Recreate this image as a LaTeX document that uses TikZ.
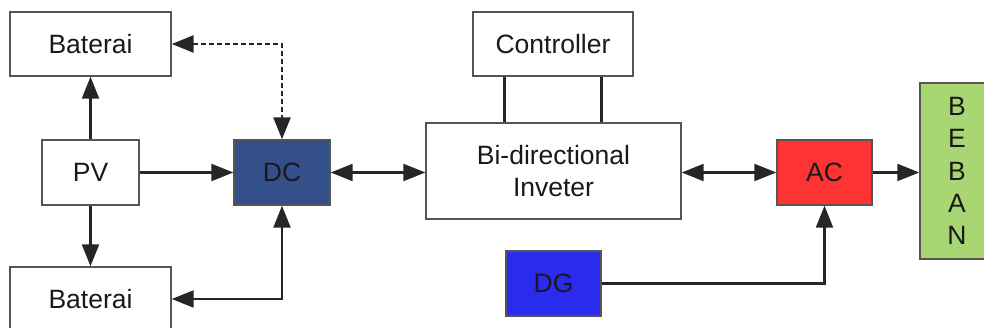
\documentclass[tikz,border=0pt]{standalone}
\usepackage{fontspec}
\setmainfont{Liberation Sans}
\usetikzlibrary{arrows.meta,calc}
\definecolor{dcblue}{HTML}{34508A}
\definecolor{dgblue}{HTML}{2B2BF0}
\definecolor{acred}{HTML}{FF3333}
\definecolor{bgreen}{HTML}{A8D672}
\definecolor{edge}{HTML}{555555}
\tikzset{
  blk/.style={draw=edge, line width=1.4pt, rectangle, inner sep=0pt, align=center,
    font=\fontsize{26.5}{32}\selectfont, text=black!90},
  conn/.style={line width=2.2pt, black!85, -{Triangle[length=22pt,width=17pt]}},
  bconn/.style={line width=2.2pt, black!85, {Triangle[length=22pt,width=17pt]}-{Triangle[length=22pt,width=17pt]}},
  plain/.style={line width=2.2pt, black!85},
}
\begin{document}
\begin{tikzpicture}[x=1pt,y=-1pt]
\useasboundingbox (0,0) rectangle (984,328);
\begin{scope}
\clip (0,0) rectangle (984,328);
\node[blk, minimum width=161, minimum height=64] (bat1) at (90.5,44) {Baterai};
\node[blk, minimum width=97, minimum height=65] (pv) at (90.5,172.5) {PV};
\node[blk, fill=dcblue, minimum width=96, minimum height=65] (dc) at (282,172.5) {DC};
\node[blk, minimum width=161, minimum height=64] (bat2) at (90.5,299) {Baterai};
\node[blk, minimum width=160, minimum height=64] (ctrl) at (553,44) {Controller};
\node[blk, minimum width=255, minimum height=96] (inv) at (553.5,171) {Bi-directional\\Inveter};
\node[blk, fill=dgblue, minimum width=95, minimum height=65] (dg) at (553.5,283.5) {DG};
\node[blk, fill=acred, minimum width=95, minimum height=65] (ac) at (824.5,172.5) {AC};
\node[blk, fill=bgreen, minimum width=74, minimum height=176, font=\fontsize{26.5}{32.2}\selectfont] (beban) at (957,171) {B\\E\\B\\A\\N};

\draw[conn] (pv.north) -- (bat1.south);
\draw[conn] (pv.south) -- (bat2.north);
\draw[conn] (pv.east) -- (dc.west);
\draw[bconn, line width=2.6pt, dash pattern=on 5pt off 3pt] (bat1.east) -| (dc.north);
\draw[bconn] (bat2.east) -| (dc.south);
\draw[bconn] (dc.east) -- (dc.east -| inv.west);
\draw[bconn] (inv.east |- ac.west) -- (ac.west);
\draw[conn] (ac.east) -- (ac.east -| beban.west);
\draw[conn] (dg.east) -| (ac.south);
\coordinate (c1) at ($(ctrl.south west)!0.2!(ctrl.south east)$);
\coordinate (c2) at ($(ctrl.south west)!0.8!(ctrl.south east)$);
\draw[plain] (c1) -- (c1 |- inv.north);
\draw[plain] (c2) -- (c2 |- inv.north);
\end{scope}
\end{tikzpicture}
\end{document}
